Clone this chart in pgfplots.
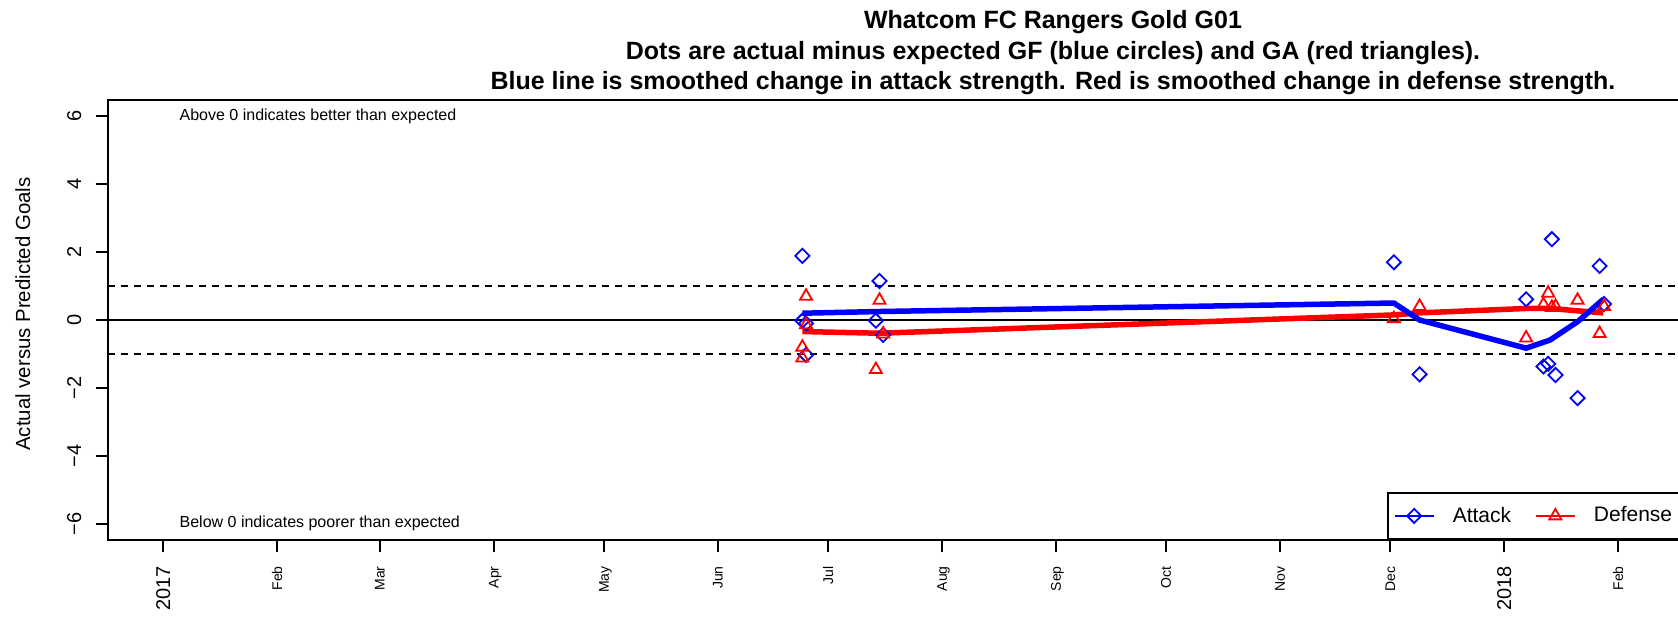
\documentclass[border=0pt]{standalone}
\usepackage{pgfplots}
\pgfplotsset{compat=1.18}
\usepackage{fontspec}
\setmainfont{Liberation Sans}
\newcommand{\yr}{\fontsize{10}{12}\selectfont}

% days counted from 1 Jan 2017
\pgfplotstableread{
day   gf
174   1.89
174  -0.02
175  -0.10
175  -1.03
194  -0.02
195   1.15
196  -0.44
335   1.70
342  -1.60
371   0.61
375.7 -1.37
377  -1.29
378   2.38
379  -1.62
385  -2.30
391   1.59
392.2 0.47
}\attackpts
\pgfplotstableread{
day   ga
174  -0.80
174  -1.12
175   0.70
175  -0.14
194  -1.46
195   0.58
196  -0.41
335   0.04
342   0.40
371  -0.53
375.7 0.45
377   0.79
378   0.37
379   0.40
385   0.58
391  -0.40
392.2 0.40
}\defensepts

\begin{document}
\begin{tikzpicture}
\begin{axis}[
    at={(54pt,39pt)}, anchor=south west,
    width=791pt, height=220pt, scale only axis,
    xmin=-15, xmax=415.6,
    ymin=-6.48, ymax=6.48,
    axis line style={line width=1pt},
    tick style={line width=1pt, black},
    tick align=outside,
    major tick length=6pt,
    xtick pos=left, ytick pos=left,
    xtick={0,31,59,90,120,151,181,212,243,273,304,334,365,396},
    xticklabels={{\yr 2017},Feb,Mar,Apr,May,Jun,Jul,Aug,Sep,Oct,Nov,Dec,{\yr 2018},Feb},
    xticklabel shift=7pt,
    xticklabel style={rotate=90, anchor=east, inner sep=0pt, text depth=0pt,
        font=\fontsize{7}{8}\selectfont},
    ytick={-6,-4,-2,0,2,4,6},
    yticklabels={−6,−4,−2,0,2,4,6},
    yticklabel shift=7.5pt,
    yticklabel style={rotate=90, anchor=base, inner sep=0pt,
        font=\fontsize{10}{12}\selectfont},
    legend columns=2,
    legend style={at={(axis cs:333.2,-6.48)}, anchor=south west,
        draw=black, line width=1pt, inner xsep=2.85pt, inner ysep=7pt,
        font=\fontsize{10.5}{12}\selectfont,
        nodes={inner sep=0pt},
        /tikz/every odd column/.append style={column sep=9.15pt},
        /tikz/every even column/.append style={column sep=12pt}},
    legend image code/.code={
        \draw[mark repeat=2, mark phase=2, #1]
            plot coordinates {(0pt,0pt) (9.75pt,0pt) (19.5pt,0pt)};
    },
]
% reference lines
\addplot[black, line width=1pt, forget plot] coordinates {(-15,0) (415.6,0)};
\addplot[black, line width=1pt, dash pattern=on 3.5pt off 3pt, forget plot] coordinates {(-15,1) (415.6,1)};
\addplot[black, line width=1pt, dash pattern=on 3.5pt off 3pt, forget plot] coordinates {(-15,-1) (415.6,-1)};

% actual minus expected
\addplot[only marks, blue, mark=square, mark size=2.5pt,
    mark options={rotate=45, line width=0.9pt}, forget plot] table[x=day, y=gf] {\attackpts};
\addplot[only marks, red, mark=triangle, mark size=3.5pt,
    mark options={line width=0.9pt}, forget plot] table[x=day, y=ga] {\defensepts};

% smoothed strength changes
\addplot[red, line width=2.75pt, forget plot] coordinates {
    (174,-0.34) (195,-0.39) (335,0.15) (342,0.21) (371,0.34) (377.5,0.34) (385,0.27) (392,0.21)
};
\addplot[blue, line width=2.75pt, forget plot] coordinates {
    (174,0.20) (195,0.25) (335,0.50) (342,0.00) (371,-0.83) (377.5,-0.59) (385,-0.05) (392,0.61)
};

\addlegendimage{blue, line width=0.75pt, mark=square, mark size=2.5pt, mark options={rotate=45, line width=0.9pt}}
\addlegendentry{Attack}
\addlegendimage{red, line width=0.75pt, mark=triangle, mark size=3.5pt, mark options={line width=0.9pt}}
\addlegendentry{Defense\hspace*{7pt}}

\node[anchor=west, inner sep=0pt, font=\fontsize{8}{9}\selectfont] at (axis cs:4.4,6) {Above 0 indicates better than expected};
\node[anchor=west, inner sep=0pt, font=\fontsize{8}{9}\selectfont] at (axis cs:4.4,-6) {Below 0 indicates poorer than expected};
\end{axis}

\node[rotate=90, anchor=base, inner sep=0pt, font=\fontsize{10.2}{12}\selectfont] at (15pt,152pt) {Actual versus Predicted Goals};

\begin{scope}[every node/.style={anchor=base, inner sep=0pt, font=\bfseries\fontsize{12.5}{15}\selectfont}]
\node at (526.5pt,295pt) {Whatcom FC Rangers Gold G01};
\node at (526.5pt,279.5pt) {Dots are actual minus expected GF (blue circles) and GA (red triangles).};
\node at (526.5pt,264.5pt) {Blue line is smoothed change in attack strength. Red is smoothed change in defense strength.};
\end{scope}

\pgfresetboundingbox
\path (0,0) rectangle (839pt,309pt);
\end{tikzpicture}
\end{document}
